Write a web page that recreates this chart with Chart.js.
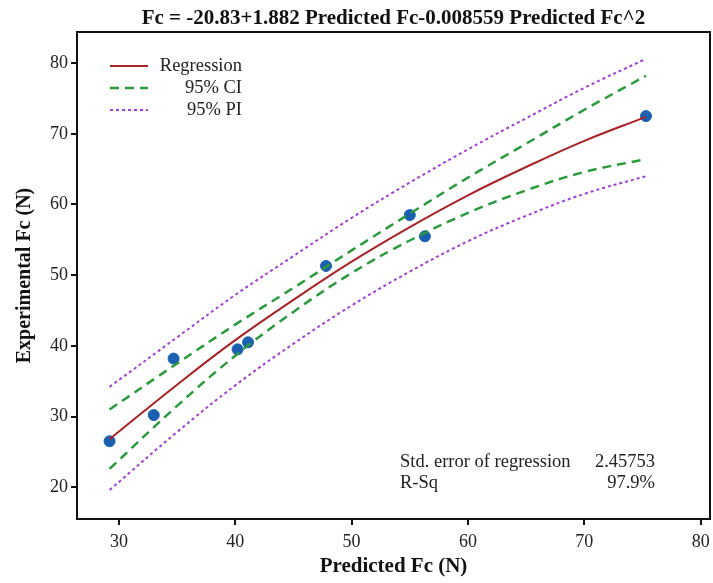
<!DOCTYPE html>
<html>
<head>
<meta charset="utf-8">
<script src="https://cdn.jsdelivr.net/npm/chart.js@4.4.1/dist/chart.umd.min.js"></script>
<style>
  html,body{margin:0;padding:0;background:#fff;overflow:hidden;}
  #wrap{width:713px;height:583px;position:relative;}
</style>
</head>
<body>
<div id="wrap"><canvas id="chart"></canvas></div>
<script>
const TITLE = 'Fc = -20.83+1.882 Predicted Fc-0.008559 Predicted Fc^2';
const X_TITLE = 'Predicted Fc (N)';
const Y_TITLE = 'Experimental Fc (N)';
const X_TICKS = [30, 40, 50, 60, 70, 80];
const Y_TICKS = [20, 30, 40, 50, 60, 70, 80];

// observed points
const obsX = [29.2, 33.0, 34.7, 40.2, 41.1, 47.8, 55.0, 56.3, 75.3];
const obsY = [26.5, 30.2, 38.2, 39.5, 40.5, 51.3, 58.5, 55.5, 72.5];

// curves
const fitX   = [29.2, 35, 40, 45, 50, 55, 60, 65, 70, 75.3];
const fitY   = [26.8, 34.5, 40.8, 46.5, 51.9, 56.8, 61.3, 65.3, 69.0, 72.4];
const ciUp   = [31.0, 37.5, 43.0, 48.2, 53.5, 58.7, 63.8, 68.6, 73.4, 78.2];
const ciLow  = [22.6, 31.5, 38.6, 44.8, 50.3, 54.9, 58.8, 62.0, 64.6, 66.4];
const piUp   = [34.2, 41.2, 47.2, 52.7, 58.1, 63.1, 67.8, 72.2, 76.5, 80.6];
const piLow  = [19.6, 27.8, 34.4, 40.3, 45.7, 50.5, 54.8, 58.4, 61.5, 64.0];

const STATS = [['Std. error of regression', '2.45753'], ['R-Sq', '97.9%']];
const LEGEND = ['Regression', '95% CI', '95% PI'];

const RED = '#a82226', GREEN = '#2a9a3c', PURPLE = '#a23fd0', BLUE = '#1b5fb0';
const SERIF = '"Liberation Serif", "DejaVu Serif", serif';

const pts = (xs, ys) => xs.map((x, i) => ({ x, y: ys[i] }));
const lineDs = (label, ys, color, dash, w) => ({
  label, data: pts(fitX, ys), showLine: true, borderColor: color, borderWidth: w,
  borderDash: dash, pointRadius: 0, tension: 0.4, fill: false
});

const overlay = {
  id: 'overlay',
  afterDraw(c){
    const ctx = c.ctx, a = c.chartArea;
    ctx.save();
    // box
    ctx.strokeStyle = '#111'; ctx.lineWidth = 2;
    ctx.strokeRect(a.left, a.top, a.right - a.left, a.bottom - a.top);
    // title over the plot area
    ctx.fillStyle = '#111'; ctx.textAlign = 'center'; ctx.textBaseline = 'alphabetic';
    ctx.font = 'bold 21px ' + SERIF;
    ctx.fillText(TITLE, (a.left + a.right) / 2, 24);
    // legend
    const styles = [[RED, [], 2], [GREEN, [9, 6], 2.5], [PURPLE, [3, 3], 2]];
    ctx.font = '18.5px ' + SERIF; ctx.fillStyle = '#222';
    ctx.textBaseline = 'middle'; ctx.textAlign = 'right';
    LEGEND.forEach((t, i) => {
      const y = 66 + i * 22;
      ctx.strokeStyle = styles[i][0]; ctx.setLineDash(styles[i][1]); ctx.lineWidth = styles[i][2];
      ctx.beginPath(); ctx.moveTo(110, y); ctx.lineTo(148, y); ctx.stroke();
      ctx.fillText(t, 242, y);
    });
    ctx.setLineDash([]);
    // stats
    STATS.forEach((r, i) => {
      const y = 462 + i * 21;
      ctx.textAlign = 'left'; ctx.fillText(r[0], 400, y);
      ctx.textAlign = 'right'; ctx.fillText(r[1], 655, y);
    });
    ctx.restore();
  }
};

new Chart(document.getElementById('chart'), {
  type: 'scatter',
  data: {
    datasets: [
      lineDs('95% PI up', piUp, PURPLE, [3, 3], 2),
      lineDs('95% PI low', piLow, PURPLE, [3, 3], 2),
      lineDs('95% CI up', ciUp, GREEN, [9, 6], 2.5),
      lineDs('95% CI low', ciLow, GREEN, [9, 6], 2.5),
      lineDs('Regression', fitY, RED, [], 2),
      { label: 'Observed', data: pts(obsX, obsY), pointRadius: 5.5, pointBackgroundColor: BLUE,
        pointBorderColor: BLUE, showLine: false }
    ]
  },
  options: {
    responsive: true, maintainAspectRatio: false, animation: false,
    layout: { autoPadding: false, padding: { left: 0, right: 3, top: 32, bottom: 0 } },
    plugins: {
      legend: { display: false },
      tooltip: { enabled: false },
      title: { display: false }
    },
    scales: {
      x: {
        type: 'linear', min: 26.4, max: 80.8,
        afterBuildTicks: s => { s.ticks = X_TICKS.map(v => ({ value: v })); },
        afterFit: s => { s.height = 64; s.paddingLeft = 0; s.paddingRight = 0; },
        grid: { display: true, drawOnChartArea: false, drawTicks: true, tickLength: 6, color: '#111', lineWidth: 2 },
        border: { display: true, color: '#111', width: 2 },
        ticks: { color: '#222', font: { family: SERIF, size: 18 }, padding: 6, maxRotation: 0 },
        title: { display: true, text: X_TITLE, color: '#111', font: { family: SERIF, size: 21, weight: 'bold' }, padding: { top: 0 } }
      },
      y: {
        type: 'linear', min: 15.5, max: 84.4,
        afterBuildTicks: s => { s.ticks = Y_TICKS.map(v => ({ value: v })); },
        afterFit: s => { s.width = 77; s.paddingTop = 0; s.paddingBottom = 0; },
        grid: { display: true, drawOnChartArea: false, drawTicks: true, tickLength: 6, color: '#111', lineWidth: 2 },
        border: { display: true, color: '#111', width: 2 },
        ticks: { color: '#222', font: { family: SERIF, size: 18 }, padding: 3 },
        title: { display: true, text: Y_TITLE, color: '#111', font: { family: SERIF, size: 20, weight: 'bold' }, padding: { top: 13 } }
      }
    }
  },
  plugins: [overlay]
});
</script>
</body>
</html>
